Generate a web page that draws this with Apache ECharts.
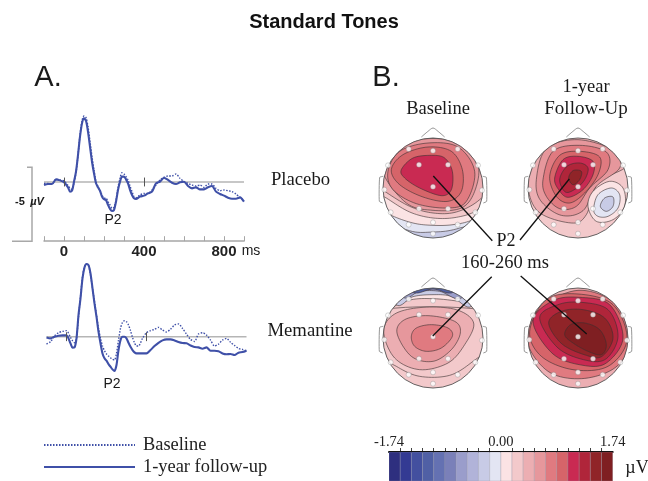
<!DOCTYPE html>
<html><head><meta charset="utf-8">
<style>html,body{margin:0;padding:0;background:#fff}#c{width:648px;height:481px}</style>
<script src="https://cdn.jsdelivr.net/npm/echarts@6/dist/echarts.min.js"></script>
</head><body><div id="c"></div>
<script>
// ---------- ERP waveforms (µV, negative plotted upward) ----------
const timesMs = [-100,-80,-60,-40,-20,0,20,30,40,50,60,70,80,90,100,110,120,130,140,150,160,170,180,190,200,210,220,230,240,250,260,270,280,290,300,310,320,330,340,350,360,380,400,420,440,460,480,500,520,540,560,580,600,620,640,660,680,700,720,740,760,780,800,820,840,860,880,900];
const placeboBaseline = [.09,.09,.14,-.18,-.14,-.07,.23,.43,.50,.05,-.63,-1.82,-3.18,-4.14,-4.46,-4.35,-3.74,-2.73,-1.71,-.81,-.02,.32,.59,.88,1.10,1.10,1.33,1.55,1.78,1.71,1.22,.36,-.25,-.63,-.54,-.36,-.14,.27,.65,.99,1.06,.88,.77,.77,.54,.20,-.14,-.32,-.41,-.41,-.54,-.25,-.02,.09,.20,.27,.20,.36,.14,.14,.43,.59,.54,.59,.65,.81,1.06,1.22];
const placeboFollowUp = [.20,.14,.14,-.18,-.11,.02,.36,.65,.59,-.02,-.70,-1.82,-3.06,-3.96,-4.30,-4.14,-3.40,-2.39,-1.37,-.59,.09,.36,.59,.99,1.17,1.22,1.55,1.82,1.96,1.89,1.33,.54,-.02,-.36,-.36,-.18,.09,.54,.88,1.10,1.15,.99,.92,.77,.65,.09,-.02,-.29,-.14,.05,.14,.02,-.02,.27,.43,.36,.50,.50,.36,.27,.65,.81,.92,1.06,1.13,1.13,1.04,1.33];
const memantineBaseline = [.50,.34,-.05,-.27,-.36,-.41,.05,.27,.41,.11,-1.35,-2.70,-4.05,-4.73,-4.91,-4.84,-4.17,-3.27,-2.36,-1.46,-.56,.11,.63,.95,1.17,1.31,1.42,1.53,1.58,1.13,.23,-.56,-.97,-1.08,-1.01,-.79,-.41,.05,.41,.63,.63,.11,-.27,-.41,-.50,-.63,-.45,-.32,-.50,-.79,-.86,-.56,-.18,.18,.32,-.18,-.27,-.11,.23,.63,.50,.23,.11,.38,.59,.79,.86,.95];
const memantineFollowUp = [.05,.11,0,-.07,-.09,-.09,.45,.74,.72,.11,-1.46,-2.59,-3.94,-4.68,-4.91,-4.84,-4.28,-3.27,-2.25,-1.35,-.34,.45,1.13,1.46,1.62,1.85,2.03,2.21,2.32,1.91,.90,.23,0,0,.11,.41,.68,.90,1.06,1.13,1.13,1.13,1.13,.90,.63,.41,.25,.18,.18,.25,.36,.43,.45,.59,.70,.72,.81,.72,.95,.95,.99,1.13,1.19,1.17,1.24,1.08,1.04,.95];
const zeroLine = [[-100,0],[900,0]];
const stimulusMarks = [0,400];
const timeTickLabels = [0,400,800];
const scaleBar = [[-185,-1],[-160,-1],[-160,4],[-260,4]];

// ---------- colour scale ----------
const scaleMin = -1.74, scaleMax = 1.74;
const scaleColors = ['#2e2f7f','#333a93','#43509f','#5060a5','#6471b2','#7a80b9','#9a9dcb','#b1b3d9','#c8cbe6','#e3e5f3','#fbe3e4','#f3c9cb','#ecaeb2','#e6979c','#e07a80','#d66469','#c92a52','#b0253a','#902428','#7f1f22'];

// ---------- scalp maps: contour bands [colour step, outline], head radius = 150, y runs downward ----------
const electrodes = [[-73,-117],[0,-112],[74,-117],[-42,-70],[45,-70],[0,-4],[-146,5],[147,7],[-42,62],[45,62],[-127,73],[127,73],[-73,110],[0,103],[74,110],[0,137],[-135,-68],[135,-68]];
const baselinePlaceboBands = [
 [9,[[-200,-200],[200,-200],[200,70],[80,120],[0,132],[-80,125],[-200,60]]],
 [10,[[-200,-200],[200,-200],[200,50],[120,95],[60,110],[0,112],[-60,105],[-130,80],[-200,40]]],
 [11,[[-200,-200],[200,-200],[200,0],[135,65],[70,88],[0,90],[-70,72],[-140,30],[-200,-10]]],
 [12,[[-200,-200],[200,-200],[200,-40],[140,35],[70,72],[0,75],[-70,55],[-145,10],[-200,-30]]],
 [13,[[-150,-50],[-110,-125],[-20,-148],[80,-135],[135,-70],[125,10],[85,60],[0,67],[-80,45]]],
 [14,[[-135,-50],[-100,-110],[-15,-135],[75,-123],[125,-50],[100,40],[45,60],[-50,47],[-120,5]]],
 [15,[[-125,-55],[-90,-100],[-15,-123],[55,-110],[88,-55],[85,10],[45,40],[-30,27],[-100,-10]]],
 [16,[[-95,-55],[-60,-90],[-5,-98],[35,-90],[58,-50],[55,5],[25,23],[-40,0],[-85,-30]]]
];
const followUpPlaceboBands = [
 [12,[[-150,-20],[-115,-125],[0,-160],[130,-120],[145,-65],[60,-15],[25,80],[-20,105],[-120,70]]],
 [13,[[-125,-25],[-95,-118],[0,-145],[110,-112],[125,-60],[55,-5],[15,68],[-50,82],[-112,38]]],
 [14,[[-105,-25],[-75,-110],[5,-128],[85,-108],[90,-55],[35,0],[-5,55],[-55,62],[-95,25]]],
 [15,[[-85,-35],[-55,-98],[5,-110],[65,-93],[60,-40],[20,15],[-25,45],[-65,25]]],
 [16,[[-70,-30],[-45,-85],[0,-95],[45,-80],[45,-40],[15,5],[-30,28],[-58,5]]],
 [17,[[-55,-25],[-33,-65],[5,-75],[30,-60],[20,-25],[-8,3],[-38,12]]],
 [18,[[-28,-30],[-15,-52],[10,-50],[5,-25],[-15,-10]]],
 [10,[[30,55],[45,10],[95,-20],[135,0],[140,55],[105,95],[55,100]]],
 [9,[[47,65],[60,20],[100,0],[125,20],[120,60],[90,85],[60,85]]],
 [8,[[67,55],[80,30],[105,27],[105,55],[85,70]]]
];
const baselineMemantineBands = [
 [11,[[-170,40],[-110,85],[-40,115],[50,112],[120,70],[170,20],[170,-80],[-170,-80]]],
 [12,[[-148,-20],[-115,-72],[-30,-92],[70,-85],[122,-45],[95,20],[45,75],[-40,95],[-115,60]]],
 [13,[[-108,-15],[-85,-55],[-15,-67],[65,-50],[82,-15],[55,35],[0,70],[-65,55]]],
 [14,[[-65,-5],[-50,-30],[-5,-40],[45,-30],[58,-5],[25,30],[-20,40],[-55,25]]],
 [10,[[-200,-60],[-85,-110],[0,-118],[110,-105],[200,-85],[200,-200],[-200,-200]]],
 [8,[[-110,-100],[-60,-124],[0,-130],[55,-125],[115,-95],[150,-200],[-150,-200]]],
 [6,[[-90,-122],[-40,-140],[20,-140],[85,-120],[150,-200],[-150,-200]]],
 [3,[[-60,-137],[0,-147],[60,-137],[100,-200],[-100,-200]]]
];
const followUpMemantineBands = [
 [14,[[-152,10],[-120,-85],[0,-143],[115,-100],[155,15],[110,90],[10,122],[-90,100]]],
 [15,[[-145,-20],[-95,-115],[0,-132],[105,-100],[147,5],[90,85],[-15,95],[-110,55]]],
 [16,[[-135,-50],[-75,-112],[5,-122],[95,-100],[135,0],[85,75],[15,82],[-75,48]]],
 [17,[[-115,-60],[-60,-100],[10,-107],[90,-85],[120,-5],[85,62],[25,67],[-60,30]]],
 [18,[[-88,-45],[-50,-80],[15,-85],[80,-60],[105,0],[72,55],[25,52],[-48,18]]],
 [19,[[-40,-10],[-22,-40],[20,-45],[65,-25],[85,20],[70,50],[30,40],[-15,15]]]
];
const headBaseSteps = [8,11,11,12];
const noseOutline = [[-35,-153],[-15,-170],[0,-180],[15,-170],[35,-153]];
const leftEar = [[-149,-35],[-160,-32],[-161,40],[-151,45]];
const rightEar = [[149,-35],[160,-32],[161,40],[151,45]];

// ---------- layout ----------
const BLUE = '#3f50a8', SERIF = '"Liberation Serif"', SANS = '"Liberation Sans"';
const heads = [
 {cx:433,cy:188,bands:baselinePlaceboBands},
 {cx:578,cy:188,bands:followUpPlaceboBands},
 {cx:433,cy:338,bands:baselineMemantineBands},
 {cx:578,cy:338,bands:followUpMemantineBands}
];
const zip = a => timesMs.map((t,i)=>[t,a[i]]);
const grids = [], xAxes = [], yAxes = [], series = [];

// closed Catmull-Rom curve through the pixel-space outline points
function closedCurve(pts){
  const out = [], n = pts.length, seg = 10;
  for (let i=0;i<n;i++){
    const p0=pts[(i-1+n)%n], p1=pts[i], p2=pts[(i+1)%n], p3=pts[(i+2)%n];
    for (let k=0;k<seg;k++){
      const t=k/seg, t2=t*t, t3=t2*t;
      out.push([0,1].map(d=>.5*((2*p1[d])+(-p0[d]+p2[d])*t+(2*p0[d]-5*p1[d]+4*p2[d]-p3[d])*t2+(-p0[d]+3*p1[d]-3*p2[d]+p3[d])*t3)));
    }
  }
  return out;
}

function wavePanel(idx, left, top, showAxis, base, follow){
  grids.push({left, top, width:200, height:140.6});
  xAxes.push({type:'value',gridIndex:idx,min:-100,max:900,interval:100,show:showAxis,
    axisLine:{onZero:false,lineStyle:{color:'#a6a6a6',width:1.5}},
    axisTick:{inside:true,length:5,lineStyle:{color:'#a6a6a6',width:1}},
    splitLine:{show:false},
    axisLabel:{margin:3,color:'#222',fontFamily:SANS,fontSize:15,fontWeight:'bold',hideOverlap:false,
      formatter:v=>timeTickLabels.includes(v)?String(v):''}});
  yAxes.push({type:'value',gridIndex:idx,inverse:true,min:-5.5,max:4,show:false});
  series.push({type:'line',xAxisIndex:idx,yAxisIndex:idx,data:zeroLine,symbol:'none',silent:true,z:1,
    lineStyle:{color:'#b5b5b5',width:1.5},
    markLine:{silent:true,symbol:'none',label:{show:false},lineStyle:{color:'#555',width:1,type:'solid'},
      data:stimulusMarks.map(t=>[{coord:[t,-.3]},{coord:[t,.3]}])}});
  series.push({name:'Baseline',type:'line',xAxisIndex:idx,yAxisIndex:idx,data:zip(base),symbol:'none',smooth:.25,z:3,
    itemStyle:{color:BLUE},lineStyle:{color:BLUE,width:1.4,type:[1.5,1.5]}});
  series.push({name:'1-year follow-up',type:'line',xAxisIndex:idx,yAxisIndex:idx,data:zip(follow),symbol:'none',smooth:.25,z:4,
    itemStyle:{color:BLUE},lineStyle:{color:BLUE,width:2.1}});
}
wavePanel(0,44,100.6,true,placeboBaseline,placeboFollowUp);
wavePanel(1,46.5,255.3,false,memantineBaseline,memantineFollowUp);
series.push({type:'custom',xAxisIndex:0,yAxisIndex:0,clip:false,silent:true,data:[[0]],
  renderItem:(p,api)=>({type:'polyline',shape:{points:scaleBar.map(q=>api.coord(q))},
    style:{fill:'none',stroke:'#a8a8a8',lineWidth:1.5}})});

heads.forEach((h,n)=>{
  const idx = n+2;
  grids.push({left:h.cx-65,top:h.cy-65,width:130,height:130});
  xAxes.push({type:'value',gridIndex:idx,min:-195,max:195,show:false});
  yAxes.push({type:'value',gridIndex:idx,min:-195,max:195,inverse:true,show:false});
  const bands = [[headBaseSteps[n],[[-200,-200],[200,-200],[200,200],[-200,200]]]].concat(h.bands);
  series.push({type:'custom',xAxisIndex:idx,yAxisIndex:idx,silent:true,z:2,clip:false,
    data:bands.map((b,i)=>[i]),
    renderItem:(p,api)=>{
      const i = api.value(0), b = bands[i];
      const c = api.coord([0,0]);
      const r = api.size([150,0])[0];
      const pts = b[1].map(q=>api.coord(q));
      return {type:'polygon',shape:{points:i===0?pts:closedCurve(pts)},
        style:{fill:scaleColors[b[0]],stroke:i===0?'none':'#3a3030',lineWidth:.6},
        clipPath:{type:'circle',shape:{cx:c[0],cy:c[1],r}}};
    }});
  series.push({type:'custom',xAxisIndex:idx,yAxisIndex:idx,silent:true,z:3,clip:false,data:[[0]],
    renderItem:(p,api)=>{
      const c = api.coord([0,0]);
      const r = api.size([150,0])[0];
      const line = (q,sm)=>({type:'polyline',shape:{points:q.map(v=>api.coord(v)),smooth:sm},style:{fill:'none',stroke:'#8a8a8a',lineWidth:.9}});
      return {type:'group',children:[
        {type:'circle',shape:{cx:c[0],cy:c[1],r},style:{fill:'none',stroke:'#555',lineWidth:.9}},
        line(noseOutline,.3),line(leftEar,.15),line(rightEar,.15)]};
    }});
  series.push({type:'scatter',xAxisIndex:idx,yAxisIndex:idx,data:electrodes,symbolSize:5,silent:true,z:5,
    itemStyle:{color:'#fff',borderColor:'#777',borderWidth:.4}});
});

// colour bar
grids.push({left:389,top:452,width:223.7,height:30});
xAxes.push({type:'value',gridIndex:6,min:scaleMin,max:scaleMax,interval:scaleMax,position:'top',
  axisLine:{onZero:false,lineStyle:{color:'#111',width:2}},
  axisTick:{show:false},
  minorTick:{show:true,splitNumber:10,length:4,lineStyle:{color:'#111',width:.8}},
  splitLine:{show:false},minorSplitLine:{show:false},
  axisLabel:{margin:2,showMinLabel:true,showMaxLabel:true,color:'#222',fontFamily:SERIF,fontSize:14.5,formatter:v=>v.toFixed(2)}});
yAxes.push({type:'value',gridIndex:6,min:0,max:1,show:false});
const step = (scaleMax-scaleMin)/scaleColors.length;
series.push({type:'custom',xAxisIndex:6,yAxisIndex:6,silent:true,clip:true,
  data:scaleColors.map((c,i)=>[scaleMin+i*step,scaleMin+(i+1)*step]),
  renderItem:(p,api)=>{
    const a = api.coord([api.value(0),1]), b = api.coord([api.value(1),0]);
    return {type:'rect',shape:{x:a[0],y:a[1],width:b[0]-a[0],height:b[1]-a[1]},
      style:{fill:scaleColors[p.dataIndex],stroke:'#8f8f9f',lineWidth:.3}};
  }});

const txt = (text,x,y,font,align) => ({type:'text',x,y,silent:true,z:20,
  style:{text,font,fill:'#1a1a1a',textAlign:align||'center',textVerticalAlign:'middle'}});
const seg = (x1,y1,x2,y2) => ({type:'line',silent:true,z:20,shape:{x1,y1,x2,y2},style:{stroke:'#111',lineWidth:1.3}});

const chart = echarts.init(document.getElementById('c'),null,{renderer:'canvas'});
chart.setOption({
  animation:false,backgroundColor:'#fff',
  title:{text:'Standard Tones',left:'center',top:7,textStyle:{fontFamily:SANS,fontSize:20,fontWeight:'bold',color:'#111'}},
  legend:{data:['Baseline','1-year follow-up'],orient:'vertical',left:43,top:436,height:60,padding:0,itemWidth:91,itemHeight:14,itemGap:4,
    selectedMode:false,itemStyle:{opacity:0},
    textStyle:{fontFamily:SERIF,fontSize:18.4,color:'#222',padding:[0,0,0,3]}},
  grid:grids,xAxis:xAxes,yAxis:yAxes,series,
  graphic:[
    txt('A.',48,78,'29px '+SANS),txt('B.',386,78,'29px '+SANS),
    txt('Baseline',438,109,'18.5px '+SERIF),txt('1-year',586,87,'18.5px '+SERIF),txt('Follow-Up',586,109,'19px '+SERIF),
    txt('Placebo',300.5,180,'18.7px '+SERIF),txt('Memantine',310,331,'18.7px '+SERIF),
    txt('P2',113,220,'14px '+SANS),txt('P2',112,384,'14px '+SANS),
    txt('-5',20,202,'bold 11px '+SANS),txt('µV',37,202,'italic bold 11px '+SANS),
    txt('ms',251,251,'14px '+SANS),
    txt('P2',506,241,'18px '+SERIF),txt('160-260 ms',505,263,'18.5px '+SERIF),
    txt('µV',637,468,'18px '+SERIF),
    seg(433.3,176,492.3,240.7),seg(569.3,179,520,240),seg(491.7,276.7,432.7,336),seg(520.7,276,586.7,334)
  ]
});
</script></body></html>
